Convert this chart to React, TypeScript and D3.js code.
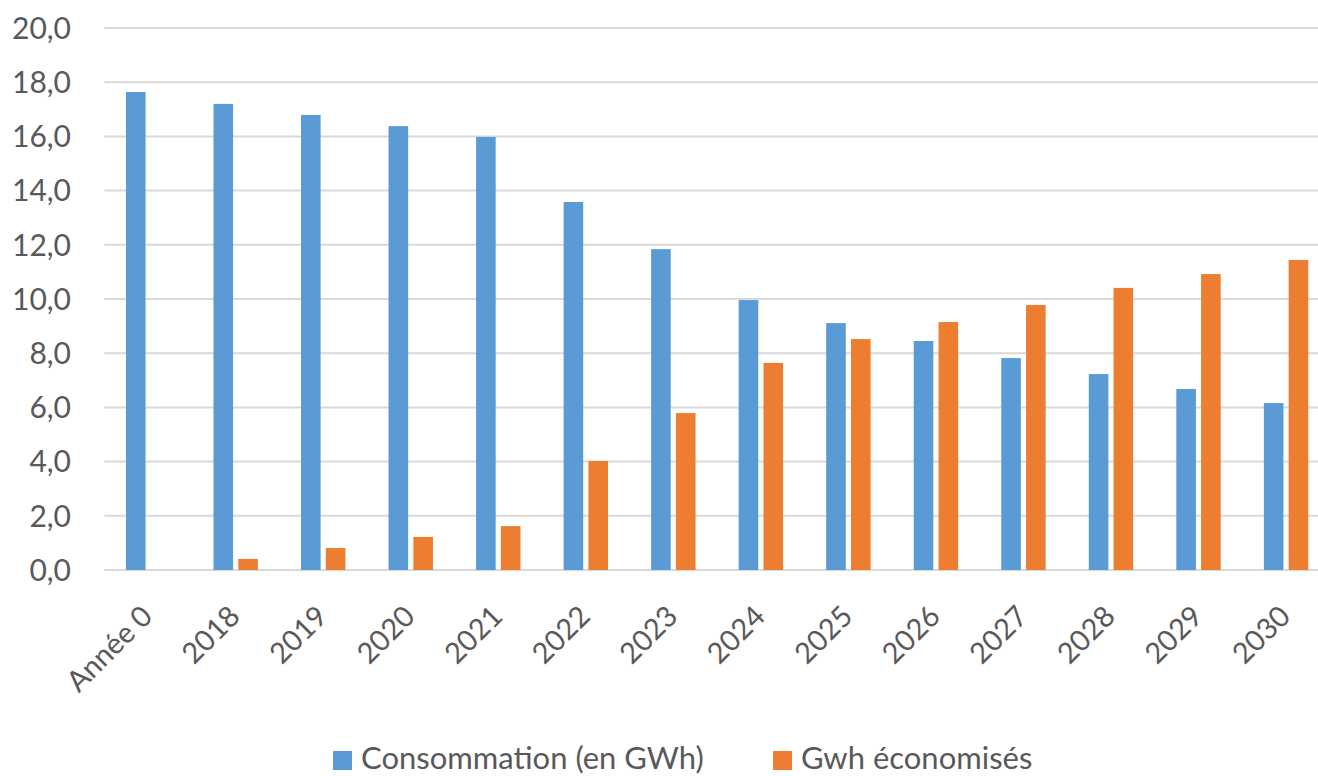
//@ts-nocheck
import React, {useEffect, useRef} from 'react';
import * as d3 from 'd3';

const categories = ['Année 0', '2018', '2019', '2020', '2021', '2022', '2023', '2024', '2025', '2026', '2027', '2028', '2029', '2030'];
const consommation = [17.64, 17.2, 16.79, 16.38, 15.98, 13.58, 11.84, 9.96, 9.11, 8.45, 7.82, 7.23, 6.68, 6.16];
const economises = [0, 0.41, 0.81, 1.22, 1.62, 4.02, 5.79, 7.64, 8.52, 9.15, 9.78, 10.41, 10.92, 11.44];
const yTicks = [0, 2, 4, 6, 8, 10, 12, 14, 16, 18, 20];
const seriesNames = ['Consommation (en GWh)', 'Gwh économisés'];
const colors = ['#5B9BD5', '#ED7D31'];

const W = 1318;
const H = 776;
const FONT = 'Lato, "Open Sans", sans-serif';

const App = () => {
    const svgRef = useRef(null);

    useEffect(() => {
        const svg = d3.select(svgRef.current);
        svg.selectAll('*').remove();

        // plot area runs a little past the right edge (reference is cropped)
        const left = 104.4;
        const right = 1329.8;
        const x = d3.scaleBand()
            .domain(categories)
            .range([left, right]);
        const y = d3.scaleLinear()
            .domain([0, 20])
            .range([570, 28]);

        const barW = 19.6;
        const gap = 5.2;

        // gridlines
        svg.append('g')
            .selectAll('line')
            .data(yTicks)
            .enter().append('line')
            .attr('x1', left)
            .attr('x2', right)
            .attr('y1', d => y(d))
            .attr('y2', d => y(d))
            .attr('stroke', '#D9D9D9')
            .attr('stroke-width', 2);

        // y tick labels
        svg.append('g')
            .selectAll('text')
            .data(yTicks)
            .enter().append('text')
            .attr('x', 71)
            .attr('y', d => y(d))
            .attr('dy', '0.36em')
            .attr('text-anchor', 'end')
            .attr('font-family', FONT)
            .attr('font-size', '30px')
            .attr('fill', '#595959')
            .text(d => d.toFixed(1).replace('.', ','));

        // bars
        const series = [consommation, economises];
        series.forEach((vals, s) => {
            svg.append('g')
                .selectAll('rect')
                .data(vals)
                .enter().append('rect')
                .attr('x', (d, i) => {
                    const c = x(categories[i]) + x.bandwidth() / 2;
                    return s === 0 ? c - gap / 2 - barW : c + gap / 2;
                })
                .attr('y', d => y(d))
                .attr('width', barW)
                .attr('height', d => y(0) - y(d))
                .attr('fill', colors[s]);
        });

        // x labels
        svg.append('g')
            .selectAll('text')
            .data(categories)
            .enter().append('text')
            .attr('transform', d => {
                const c = x(d) + x.bandwidth() / 2;
                return 'translate(' + (c + 6) + ',' + 618 + ')rotate(-45)';
            })
            .attr('text-anchor', 'end')
            .attr('font-family', FONT)
            .attr('font-size', '29px')
            .attr('fill', '#595959')
            .text(d => d);

        // legend
        const legendX = [333, 773];
        seriesNames.forEach((name, s) => {
            svg.append('rect')
                .attr('x', legendX[s])
                .attr('y', 751)
                .attr('width', 19)
                .attr('height', 19)
                .attr('fill', colors[s]);
            svg.append('text')
                .attr('x', legendX[s] + 28)
                .attr('y', 769)
                .attr('font-family', FONT)
                .attr('font-size', '31px')
                .attr('fill', '#595959')
                .text(name);
        });
    }, []);

    return (
        <svg ref={svgRef} width={W} height={H}
             style={{position: 'absolute', left: 0, top: 0, display: 'block', background: '#fff'}}/>
    );
};

export default App;
